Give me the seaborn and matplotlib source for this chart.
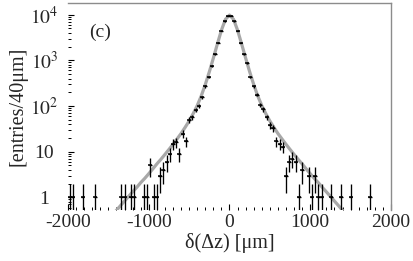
import matplotlib
matplotlib.use("Agg")
import matplotlib.pyplot as plt
import seaborn as sns
import numpy as np
import pandas as pd
from matplotlib.ticker import FixedLocator, MultipleLocator, LogLocator, NullFormatter

# ---- data (bins of 40 um) ----
bin_centers = [-1980, -1940, -1820, -1660, -1340, -1300, -1220, -1180, -1060, -1020,
               -980, -940, -900, -860, -820, -780, -740, -700, -660, -620,
               -580, -540, -500, -460, -420, -380, -340, -300, -260, -220,
               -180, -140, -100, -60, -20, 20, 60, 100, 140, 180,
               220, 260, 300, 340, 380, 420, 460, 500, 540, 580,
               620, 660, 700, 740, 780, 820, 860, 900, 980, 1020,
               1060, 1100, 1140, 1260, 1380, 1500, 1740]
counts = [1, 1, 1, 1, 1, 1, 1, 1, 1, 1,
          5, 1, 1, 3, 4, 6, 9, 15, 16, 9,
          25, 17, 50, 57, 82, 100, 155, 270, 440, 760,
          1370, 2450, 4470, 7100, 9500, 9500, 7100, 4470, 2450, 1370,
          870, 440, 270, 175, 106, 85, 57, 38, 33, 17,
          15, 13, 3, 6, 7, 6, 1, 4, 3, 1,
          3, 1, 1, 1, 1, 1, 1]

fit_x = [-1450, -1400, -1350, -1300, -1250, -1200, -1150, -1100, -1050, -1000,
         -950, -900, -850, -800, -750, -700, -650, -600, -550, -500,
         -450, -400, -350, -300, -250, -200, -150, -100, -50, 0,
         50, 100, 150, 200, 250, 300, 350, 400, 450, 500,
         550, 600, 650, 700, 750, 800, 850, 900, 950, 1000,
         1050, 1100, 1150, 1200, 1250, 1300, 1350, 1400, 1450]
fit_y = [0.42, 0.52, 0.66, 0.83, 1.05, 1.32, 1.65, 2.1, 2.6, 3.3,
         4.2, 5.4, 6.8, 8.7, 11.2, 14.5, 19, 25, 34, 47,
         68, 102, 166, 295, 560, 1120, 2290, 4570, 7900, 9800,
         7900, 4570, 2290, 1120, 560, 295, 166, 102, 68, 47,
         34, 25, 19, 14.5, 11.2, 8.7, 6.8, 5.4, 4.2, 3.3,
         2.6, 2.1, 1.65, 1.32, 1.05, 0.83, 0.66, 0.52, 0.42]

x_ticks = [-2000, -1000, 0, 1000, 2000]
x_ticklabels = ["-2000", "-1000", "0", "1000", "2000"]
y_ticks = [1, 10, 100, 1000, 10000]
y_ticklabels = ["1", "10", "$10^2$", "$10^3$", "$10^4$"]
bin_halfwidth = 20

pts = pd.DataFrame({"x": bin_centers, "n": counts})
pts["err"] = np.sqrt(pts["n"])
fit = pd.DataFrame({"x": fit_x, "y": fit_y})

sns.set_style("ticks")
plt.rcParams["font.family"] = ["Liberation Serif", "DejaVu Serif"]
plt.rcParams["mathtext.fontset"] = "stix"
plt.rcParams["axes.unicode_minus"] = False

fig = plt.figure(figsize=(4.13, 2.61), dpi=100)
ax = fig.add_axes([68 / 413, 1 - 210 / 261, 323 / 413, 207 / 261])
ax.set_yscale("log")

sns.lineplot(data=fit, x="x", y="y", ax=ax, color="#a8a8a8", lw=2.3, zorder=2)
ax.errorbar(pts["x"], pts["n"], yerr=pts["err"], xerr=bin_halfwidth, fmt="none",
            ecolor="black", elinewidth=0.95, capsize=0, zorder=3)
sns.scatterplot(data=pts, x="x", y="n", ax=ax, marker="_", s=12, color="black",
                linewidth=1.1, zorder=4)

ax.set_xlim(-2000, 2000)
ax.set_ylim(0.53, 18000)
ax.xaxis.set_major_locator(FixedLocator(x_ticks))
ax.set_xticklabels(x_ticklabels)
ax.xaxis.set_minor_locator(MultipleLocator(100))
ax.yaxis.set_major_locator(FixedLocator(y_ticks))
ax.set_yticklabels(y_ticklabels)
ax.yaxis.set_minor_locator(LogLocator(base=10, subs=np.arange(2, 10)))
ax.yaxis.set_minor_formatter(NullFormatter())

ax.tick_params(axis="both", which="major", direction="in", length=4, width=0.8,
               labelsize=14, color="black")
ax.tick_params(axis="both", which="minor", direction="in", length=2, width=0.7,
               color="black")
ax.tick_params(axis="x", which="major", pad=3)
for lab in ax.get_yticklabels():
    lab.set_horizontalalignment("center")
ax.tick_params(axis="y", which="major", pad=17)

for side in ["left", "bottom"]:
    ax.spines[side].set_visible(False)
for side in ["top", "right"]:
    ax.spines[side].set_visible(True)
    ax.spines[side].set_color("#8c8c8c")
    ax.spines[side].set_linewidth(1.0)

ax.set_xlabel("δ(Δz) [μm]", fontsize=14.5, labelpad=1)
ax.set_ylabel("[entries/40μm]", fontsize=14.5, labelpad=2)
ax.text(0.1, 0.86, "(c)", transform=ax.transAxes, fontsize=14, ha="center", va="center")

fig.savefig("out.png", dpi=100)
